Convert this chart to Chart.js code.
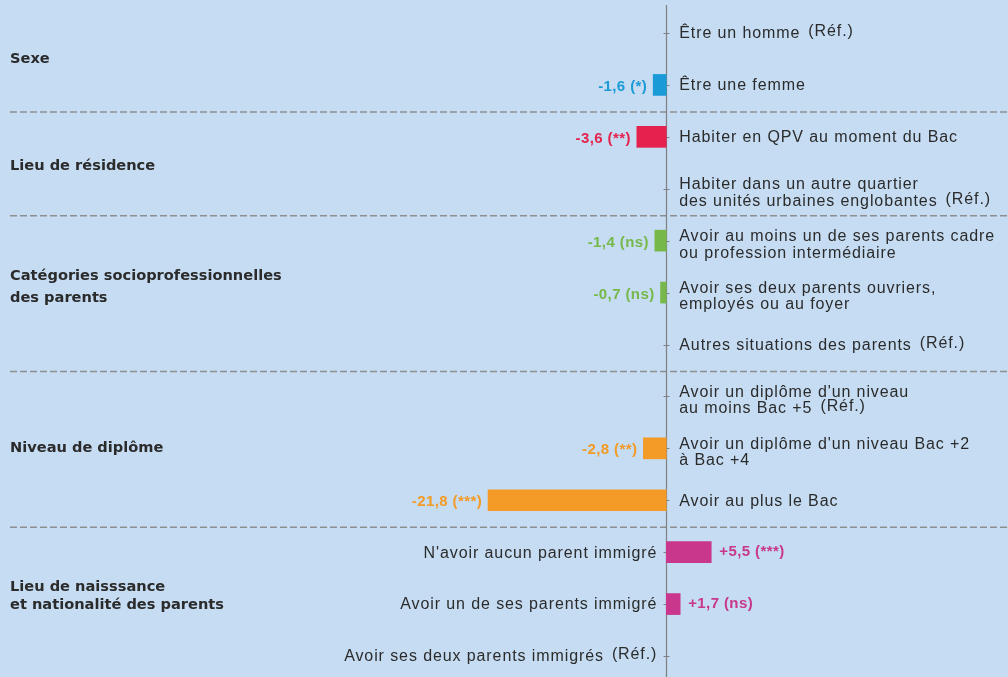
<!DOCTYPE html>
<html lang="fr">
<head>
  <meta charset="UTF-8" />
  <title>Écarts selon les caractéristiques</title>
  <script src="https://cdn.jsdelivr.net/npm/chart.js"></script>
  <style>
    body { margin: 0; background: #c5dcf2; }
    .wrap { width: 1008px; height: 677px; position: relative; }
  </style>
</head>
<body>
  <div class="wrap"><canvas id="chart"></canvas></div>

  <script>
    // données
    const categories = [
      ["Être un homme"],
      ["Être une femme"],
      ["Habiter en QPV au moment du Bac"],
      ["Habiter dans un autre quartier", "des unités urbaines englobantes"],
      ["Avoir au moins un de ses parents cadre", "ou profession intermédiaire"],
      ["Avoir ses deux parents ouvriers,", "employés ou au foyer"],
      ["Autres situations des parents"],
      ["Avoir un diplôme d'un niveau", "au moins Bac +5"],
      ["Avoir un diplôme d'un niveau Bac +2", "à Bac +4"],
      ["Avoir au plus le Bac"],
      ["N'avoir aucun parent immigré"],
      ["Avoir un de ses parents immigré"],
      ["Avoir ses deux parents immigrés"]
    ];
    const values = [0, -1.6, -3.6, 0, -1.4, -0.7, 0, 0, -2.8, -21.8, 5.5, 1.7, 0];
    const significance = ["", "(*)", "(**)", "", "(ns)", "(ns)", "", "", "(**)", "(***)", "(***)", "(ns)", ""];
    const isReference = [true, false, false, true, false, false, true, true, false, false, false, false, true];
    const groupNames = [
      ["Sexe"],
      ["Lieu de résidence"],
      ["Catégories socioprofessionnelles", "des parents"],
      ["Niveau de diplôme"],
      ["Lieu de naisssance", "et nationalité des parents"]
    ];
    const groupFirstRow = [0, 2, 4, 7, 10];
    const groupColors = ["#1a9ad6", "#e5214e", "#76b84a", "#f39b26", "#c8378b"];

    const TEXT = "#2b2b2b";
    const AXIS = "#808080";
    const labelFont = "16px 'Liberation Sans', Arial, sans-serif";
    const groupFont = "bold 14.6px 'DejaVu Sans', sans-serif";
    const valueFont = "bold 15px 'Liberation Sans', Arial, sans-serif";

    function groupOf(i) {
      let g = 0;
      groupFirstRow.forEach((start, k) => { if (i >= start) g = k; });
      return g;
    }
    const barColors = values.map((v, i) => groupColors[groupOf(i)]);
    // les rangées du dernier groupe ont le libellé à gauche
    const labelLeft = values.map((v, i) => groupOf(i) === 4);

    function fmt(v) {
      const s = Math.abs(v).toFixed(1).replace(".", ",");
      return (v < 0 ? "-" : "+") + s;
    }

    const decorations = {
      id: "decorations",
      beforeDatasetsDraw(chart) {
        const ctx = chart.ctx;
        const x = chart.scales.x, y = chart.scales.y;
        const x0 = Math.round(x.getPixelForValue(0)) + 0.5;
        ctx.save();
        // séparateurs en tirets
        ctx.strokeStyle = "#8e8e8e";
        ctx.lineWidth = 1.5;
        ctx.setLineDash([7, 3]);
        groupFirstRow.slice(1).forEach(r => {
          const yy = (y.getPixelForValue(r - 1) + y.getPixelForValue(r)) / 2 + 1;
          ctx.beginPath();
          ctx.moveTo(10, yy);
          ctx.lineTo(chart.width, yy);
          ctx.stroke();
        });
        ctx.setLineDash([]);
        // axe zéro
        ctx.strokeStyle = AXIS;
        ctx.lineWidth = 1.2;
        ctx.beginPath();
        ctx.moveTo(x0, 5);
        ctx.lineTo(x0, chart.height);
        ctx.stroke();
        ctx.lineWidth = 1;
        categories.forEach((c, i) => {
          const yy = Math.round(y.getPixelForValue(i)) + 0.5;
          ctx.beginPath();
          ctx.moveTo(x0 - 3, yy);
          ctx.lineTo(x0 + 3, yy);
          ctx.stroke();
        });
        ctx.restore();
      },
      afterDatasetsDraw(chart) {
        const ctx = chart.ctx;
        const x = chart.scales.x, y = chart.scales.y;
        const x0 = x.getPixelForValue(0);
        ctx.save();
        ctx.textBaseline = "middle";
        // libellés des modalités
        categories.forEach((lines, i) => {
          const yc = y.getPixelForValue(i);
          const left = labelLeft[i];
          ctx.font = labelFont;
          ctx.letterSpacing = "0.9px";
          ctx.fillStyle = TEXT;
          ctx.textAlign = left ? "right" : "left";
          const tx = left ? x0 - 9 : x0 + 13;
          const refW = isReference[i] ? ctx.measureText("(Réf.)").width + 8 : 0;
          const startY = lines.length > 1 ? yc - 4 : yc + 1;
          lines.forEach((ln, k) => {
            const ly = startY + k * 16.5;
            const lx = left ? tx - refW : tx;
            ctx.fillText(ln, lx, ly);
            if (isReference[i] && k === lines.length - 1) {
              const w = ctx.measureText(ln).width;
              ctx.textAlign = "left";
              ctx.fillText("(Réf.)", left ? lx + 8 : lx + w + 8, ly - 2);
              ctx.textAlign = left ? "right" : "left";
            }
          });
          // valeurs
          if (!isReference[i]) {
            const v = values[i];
            const xe = x.getPixelForValue(v);
            ctx.font = valueFont;
            ctx.letterSpacing = "0.4px";
            ctx.fillStyle = barColors[i];
            const txt = fmt(v) + " " + significance[i];
            if (v < 0) {
              ctx.textAlign = "right";
              ctx.fillText(txt, xe - 6, yc + 2);
            } else {
              ctx.textAlign = "left";
              ctx.fillText(txt, xe + 8, yc);
            }
          }
        });
        // noms des groupes
        ctx.font = groupFont;
        ctx.letterSpacing = "0px";
        ctx.fillStyle = TEXT;
        ctx.textAlign = "left";
        groupNames.forEach((lines, g) => {
          const first = groupFirstRow[g];
          const last = g + 1 < groupFirstRow.length ? groupFirstRow[g + 1] - 1 : categories.length - 1;
          const yc = (y.getPixelForValue(first) + y.getPixelForValue(last)) / 2;
          const lh = g === 2 ? 22 : 18;
          const offs = lines.length > 1 ? -lh / 2 - (g === 4 ? 8 : 5) : 0;
          lines.forEach((ln, k) => ctx.fillText(ln, 10, yc + offs + k * lh + (g === 1 ? 3 : 0)));
        });
        ctx.restore();
      }
    };

    new Chart(document.getElementById("chart"), {
      type: "bar",
      data: {
        labels: categories.map(c => c.join(" ")),
        datasets: [{
          // pas de barre pour les modalités de référence
          data: values.map((v, i) => isReference[i] ? null : v),
          backgroundColor: barColors,
          barThickness: 21,
          borderWidth: 0
        }]
      },
      options: {
        indexAxis: "y",
        responsive: true,
        maintainAspectRatio: false,
        animation: false,
        layout: { padding: { top: 33, bottom: 21, left: 0, right: 0 } },
        plugins: { legend: { display: false }, tooltip: { enabled: false } },
        scales: {
          x: { display: false, min: -81.5, max: 41.8 },
          y: { display: false, offset: false }
        }
      },
      plugins: [decorations]
    });
  </script>
</body>
</html>
